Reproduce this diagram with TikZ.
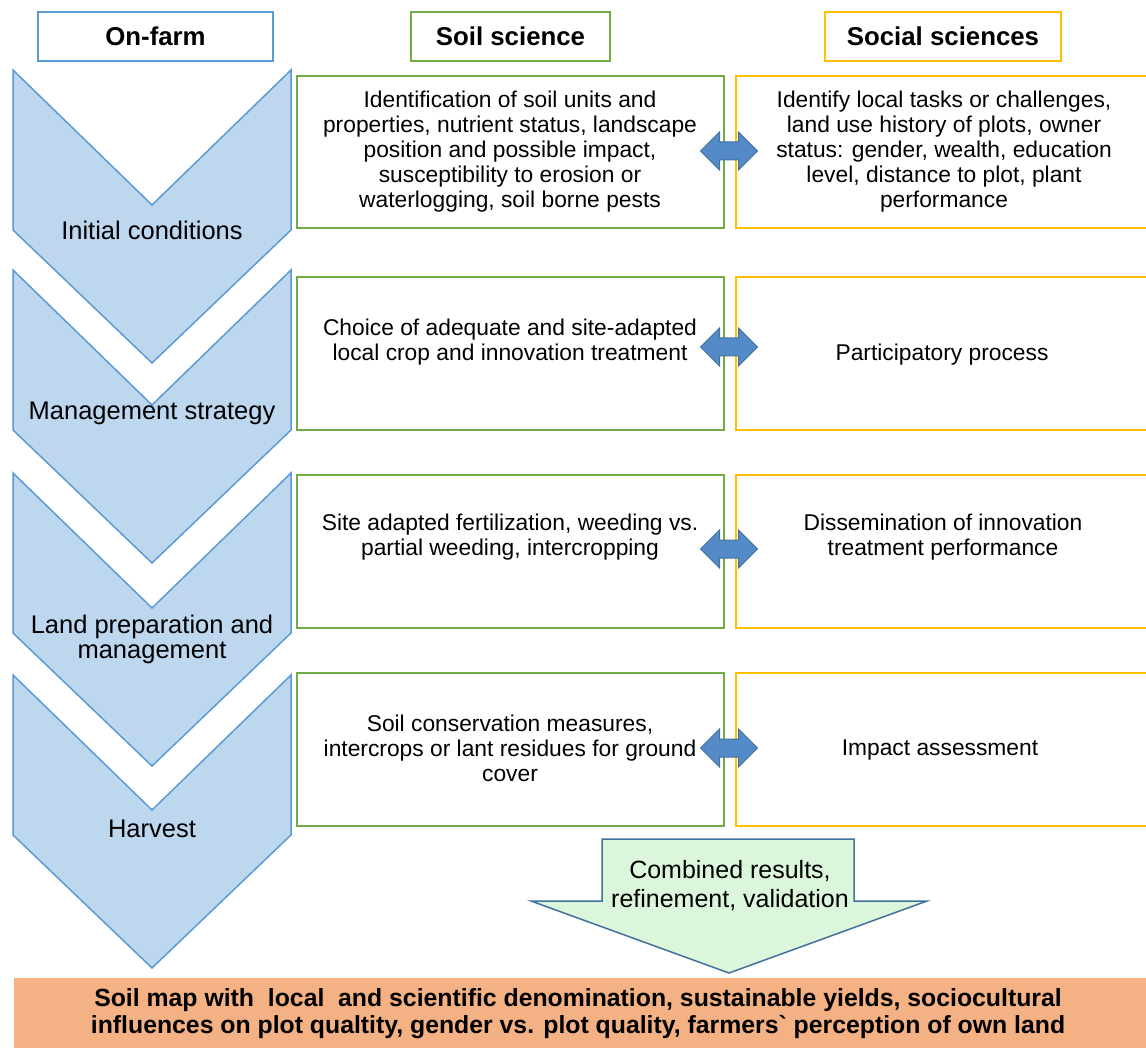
\documentclass[tikz,border=0pt]{standalone}
\usepackage{fontspec}
\setmainfont{Liberation Sans}
\usepackage{xcolor}
\usetikzlibrary{shapes.arrows, positioning}
\definecolor{chevblue}{RGB}{189,215,238}
\definecolor{chevline}{RGB}{91,155,213}
\definecolor{soilgreen}{RGB}{112,173,71}
\definecolor{socialgold}{RGB}{255,192,0}
\definecolor{linkblue}{RGB}{84,138,200}
\definecolor{linkline}{RGB}{65,113,156}
\definecolor{resultgreen}{RGB}{220,246,220}
\definecolor{mapfill}{RGB}{244,177,131}
\tikzset{
    header/.style={rectangle, draw, line width=2pt, fill=white, minimum height=49pt, inner sep=0pt, font=\fontsize{25.8}{28}\selectfont\bfseries},
    soilbox/.style={rectangle, draw=soilgreen, line width=2pt, minimum width=427pt, inner sep=0pt},
    socialbox/.style={rectangle, draw=socialgold, line width=2pt, minimum width=424pt, inner sep=0pt},
    boxtext/.style={align=center, inner sep=0pt, font=\fontsize{22.8}{25}\selectfont},
    stagetext/.style={align=center, inner sep=0pt, font=\fontsize{25.5}{25}\selectfont},
    chevron/.style={fill=chevblue, draw=chevline, line width=1.5pt, line join=miter},
    link/.style={double arrow, double arrow head extend=10pt, minimum height=57pt, inner sep=8.5pt, fill=linkblue, draw=linkline, line width=1pt},
    result/.style={fill=resultgreen, draw=linkline, line width=1.5pt, line join=miter},
    mapbox/.style={rectangle, fill=mapfill, minimum width=1140pt, minimum height=72pt, inner sep=0pt}
}

\begin{document}
\begin{tikzpicture}[x=1pt, y=-1pt]
    \useasboundingbox (0,0) rectangle (1146,1048);
    % Column headers
    \node[header, draw=chevline, minimum width=235pt] (onfarm) at (155.5,36.5) {On-farm};
    \node[header, draw=soilgreen, minimum width=199pt] (soil) at (510.5,36.5) {Soil science};
    \node[header, draw=socialgold, minimum width=236pt] (social) at (943,36.5) {Social sciences};

    % On-farm stages
    \foreach \t in {70,270,473,675}
        \draw[chevron] (13,\t) -- (152,\t+135) -- (291,\t) -- (291,\t+160) -- (152,\t+293) -- (13,\t+160) -- cycle;
    \node[stagetext] (initial) at (152,230) {Initial conditions};
    \node[stagetext] (strategy) at (152,413) {Management strategy};
    \node[stagetext] (landprep) at (152,639) {Land preparation and\\management};
    \node[stagetext] (harvest) at (152,829) {Harvest};

    % Soil science boxes
    \node[soilbox, minimum height=152pt] (soil1) at (510.5,152) {};
    \node[soilbox, minimum height=153pt] (soil2) at (510.5,353.5) {};
    \node[soilbox, minimum height=153pt] (soil3) at (510.5,551.5) {};
    \node[soilbox, minimum height=153pt] (soil4) at (510.5,749.5) {};
    \node[boxtext] (soiltext1) at (510,152) {Identification of soil units and\\properties, nutrient status, landscape\\position and possible impact,\\susceptibility to erosion or\\waterlogging, soil borne pests};
    \node[boxtext] (soiltext2) at (510,342) {Choice of adequate and site-adapted\\local crop and innovation treatment};
    \node[boxtext] (soiltext3) at (510,537) {Site adapted fertilization, weeding vs.\\partial weeding, intercropping};
    \node[boxtext] (soiltext4) at (510,748) {Soil conservation measures,\\intercrops or lant residues for ground\\cover};

    % Social sciences boxes
    \node[socialbox, minimum height=152pt] (social1) at (948,152) {};
    \node[socialbox, minimum height=153pt] (social2) at (948,353.5) {};
    \node[socialbox, minimum height=153pt] (social3) at (948,551.5) {};
    \node[socialbox, minimum height=153pt] (social4) at (948,749.5) {};
    \node[boxtext] (socialtext1) at (944,152) {Identify local tasks or challenges,\\land use history of plots, owner\\status: gender, wealth, education\\level, distance to plot, plant\\performance};
    \node[boxtext] (socialtext2) at (942,355) {Participatory process};
    \node[boxtext] (socialtext3) at (943,537) {Dissemination of innovation\\treatment performance};
    \node[boxtext] (socialtext4) at (940,750) {Impact assessment};

    % Links between the two sciences
    \node[link] (link1) at (729,151) {};
    \node[link] (link2) at (729,347) {};
    \node[link] (link3) at (729,549) {};
    \node[link] (link4) at (729,748) {};

    % Combined results
    \draw[result] (602,839) -- (854,839) -- (854,901) -- (927,901) -- (729,973) -- (531,901) -- (602,901) -- cycle;
    \node[align=center, inner sep=0pt, font=\fontsize{25}{29}\selectfont] (combined) at (730,886) {Combined results,\\refinement, validation};

    % Final output
    \node[mapbox, anchor=north west] (soilmap) at (14,978) {};
    \node[align=center, inner sep=0pt, font=\bfseries\fontsize{24.8}{27}\selectfont] (maptext) at (578,1013.5) {Soil map with\ \ local\ \ and scientific denomination, sustainable yields, sociocultural\\influences on plot qualtity, gender vs. plot quality, farmers\textasciigrave{} perception of own land};
\end{tikzpicture}
\end{document}
